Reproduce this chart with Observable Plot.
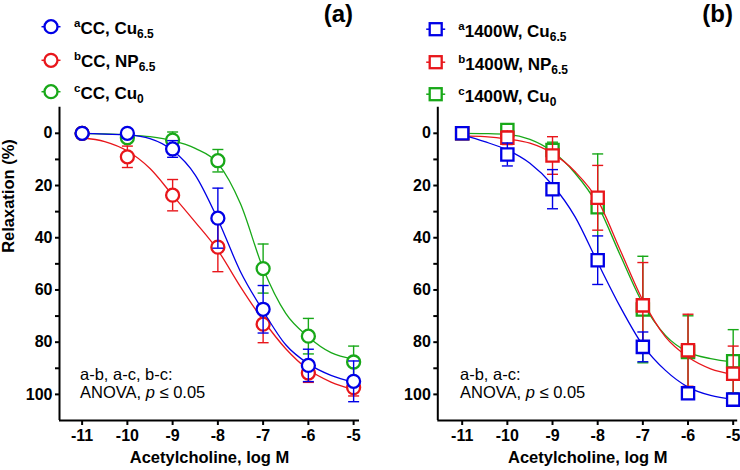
<!DOCTYPE html>
<html><head><meta charset="utf-8">
<script src="https://cdn.jsdelivr.net/npm/d3@7"></script>
<script src="https://cdn.jsdelivr.net/npm/@observablehq/plot@0.6"></script>
<style>
body{margin:0;background:#fff;}
#wrap{position:relative;width:740px;height:470px;overflow:hidden;background:#fff;font-family:"Liberation Sans",Arial,sans-serif;}
#wrap svg{position:absolute;top:0;overflow:visible;}
</style></head><body><div id="wrap"></div>
<script>
// ---- shared axis values ----
const doses = [-11, -10, -9, -8, -7, -6, -5];
const xTickLabels = ["-11", "-10", "-9", "-8", "-7", "-6", "-5"];
const yTicks = [0, 20, 40, 60, 80, 100];
const yMinorTicks = [10, 30, 50, 70, 90];
const yDomain = [-10, 110];
const xDomainA = [-11.5, -4.87];
const xDomainB = [-11.54, -4.9];
const curveDoses = [-11, -10.5, -10, -9.5, -9, -8.5, -8, -7.5, -7, -6.5, -6, -5.5, -5];
const xTitle = "Acetylcholine, log M";
const yTitle = "Relaxation (%)";

// ---- panel (a): CC ----
const ccCu65Mean = [0, 0, 6.0, 32.5, 67.4, 88.9, 95.0];
const ccCu65Sem  = [0, 0, 3.2, 11.5, 9.1, 6.2, 7.8];
const ccCu65Fit  = [0, 0.3, 0.6, 2.0, 6.5, 16, 33, 53, 68, 81, 88.3, 92.7, 95.3];

const ccNP65Mean = [0, 9.0, 23.7, 43.6, 73.1, 91.8, 97.4];
const ccNP65Sem  = [0, 4.1, 6.0, 9.4, 7.1, 3.6, 3.2];
const ccNP65Fit  = [1.7, 3.2, 6.8, 13.5, 23.7, 34, 44.8, 58.8, 71.6, 82.5, 90.5, 95.3, 98.2];

const ccCu0Mean = [0, 1.7, 2.6, 10.5, 51.8, 77.7, 87.6];
const ccCu0Sem  = [0, 1.5, 3.1, 4.3, 9.4, 6.8, 6.1];
const ccCu0Fit  = [0, 0.2, 0.6, 1.3, 2.8, 5.8, 11.5, 27, 51.8, 69, 78, 84, 86.5];

// ---- panel (b): 1400W ----
const wCu65Mean = [0, 8.1, 21.4, 48.6, 81.8, 99.6, 102.0];
const wCu65Sem  = [0, 4.4, 7.5, 9.3, 5.7, 1.5, 1.2];
const wCu65Fit  = [0.6, 3.2, 6.4, 11.5, 19.8, 32, 49.5, 66.5, 81.2, 90.8, 97.2, 100.4, 101.9];

const wNP65Mean = [0, 1.7, 8.5, 24.7, 65.9, 83.1, 92.1];
const wNP65Sem  = [0, 2.6, 7.2, 12.4, 16.4, 13.8, 10.6];
const wNP65Fit  = [1.0, 1.3, 2.2, 3.8, 7.7, 14.7, 25.6, 44.8, 64, 78, 85.7, 90.2, 92.3];

const wCu0Mean = [0, -1.3, 6.4, 28.3, 67.5, 83.8, 87.3];
const wCu0Sem  = [0, 1.5, 3.0, 20.4, 20.4, 13.9, 12.1];
const wCu0Fit  = [0, 0.1, 0.4, 2.3, 7.0, 15.3, 27.5, 46.7, 65.2, 77.4, 83.8, 86.3, 87.6];

const blue = "#0000e6", red = "#e8161b", green = "#18a818";

const legendA = [
  {sup: "a", main: "CC, Cu", sub: "6.5", color: blue},
  {sup: "b", main: "CC, NP", sub: "6.5", color: red},
  {sup: "c", main: "CC, Cu", sub: "0", color: green}
];
const legendB = [
  {sup: "a", main: "1400W, Cu", sub: "6.5", color: blue},
  {sup: "b", main: "1400W, NP", sub: "6.5", color: red},
  {sup: "c", main: "1400W, Cu", sub: "0", color: green}
];
const statsA = "a-b, a-c, b-c:";
const statsB = "a-b, a-c:";

// draw order: c, b, a  (a on top)
const seriesA = [
  {mean: ccCu0Mean, sem: ccCu0Sem, fit: ccCu0Fit, color: green},
  {mean: ccNP65Mean, sem: ccNP65Sem, fit: ccNP65Fit, color: red},
  {mean: ccCu65Mean, sem: ccCu65Sem, fit: ccCu65Fit, color: blue}
];
const seriesB = [
  {mean: wCu0Mean, sem: wCu0Sem, fit: wCu0Fit, color: green},
  {mean: wNP65Mean, sem: wNP65Sem, fit: wNP65Fit, color: red},
  {mean: wCu65Mean, sem: wCu65Sem, fit: wCu65Fit, color: blue}
];

const capSymbol = {draw(ctx) { ctx.moveTo(-5.5, 0); ctx.lineTo(5.5, 0); }};

function seriesMarks(series, symbol, r) {
  const marks = [];
  for (const s of series) {
    const pts = doses.map((d, i) => ({x: d, y: s.mean[i], e: s.sem[i]}));
    const fit = curveDoses.map((d, i) => ({x: d, y: s.fit[i]}));
    const eb = pts.filter(p => p.e > 0);
    marks.push(Plot.line(fit, {x: "x", y: "y", stroke: s.color, strokeWidth: 1.3, curve: "monotone-x"}));
    marks.push(Plot.ruleX(eb, {x: "x", y1: p => p.y - p.e, y2: p => p.y + p.e, stroke: s.color, strokeWidth: 1.4}));
    marks.push(Plot.dot(eb, {x: "x", y: p => p.y - p.e, symbol: capSymbol, stroke: s.color, strokeWidth: 1.4}));
    marks.push(Plot.dot(eb, {x: "x", y: p => p.y + p.e, symbol: capSymbol, stroke: s.color, strokeWidth: 1.4}));
    marks.push(Plot.dot(pts, {x: "x", y: "y", symbol, r, stroke: s.color, fill: "white", strokeWidth: 2.3}));
  }
  return marks;
}

function panel({series, symbol, r, xDomain, width, marginLeft, marginRight, yTitleOn}) {
  return Plot.plot({
    width, height: 470,
    marginLeft, marginRight, marginTop: 106.7, marginBottom: 50,
    style: {fontFamily: '"Liberation Sans", Arial, sans-serif', fontWeight: "bold", color: "black", background: "transparent", overflow: "visible"},
    x: {domain: xDomain},
    y: {domain: yDomain, reverse: true},
    marks: [
      ...seriesMarks(series, symbol, r),
      Plot.axisY({ticks: yMinorTicks, tickSize: 4, strokeWidth: 2, tickFormat: () => "", label: null}),
      Plot.axisY({ticks: yTicks, tickSize: 4, tickPadding: 3, strokeWidth: 2, fontSize: 16, label: null}),
      Plot.axisX({ticks: doses, tickSize: 5, tickPadding: 4, strokeWidth: 2, fontSize: 16, label: null,
                  tickFormat: (d) => xTickLabels[doses.indexOf(d)]}),
      Plot.ruleX([xDomain[0]], {stroke: "black", strokeWidth: 2}),
      Plot.ruleY([yDomain[1]], {stroke: "black", strokeWidth: 2}),
      Plot.text([xTitle], {text: d => d, frameAnchor: "bottom", dy: 42, fontSize: 16.5}),
      ...(yTitleOn ? [Plot.text([yTitle], {text: d => d, frameAnchor: "left", rotate: -90, dx: -51, dy: -11, fontSize: 16.5})] : [])
    ]
  });
}

const wrap = document.getElementById("wrap");
const svgA = panel({series: seriesA, symbol: "circle", r: 6.5, xDomain: xDomainA, width: 370, marginLeft: 59, marginRight: 11, yTitleOn: true});
svgA.style.left = "0px";
wrap.appendChild(svgA);
const svgB = panel({series: seriesB, symbol: "square", r: 6.9, xDomain: xDomainB, width: 360, marginLeft: 57.3, marginRight: 2.8, yTitleOn: false});
svgB.style.left = "380px";
wrap.appendChild(svgB);

// ---- overlay: legends, panel letters, statistics note ----
const ov = d3.create("svg").attr("width", 740).attr("height", 470).style("left", "0px")
  .attr("font-family", '"Liberation Sans", Arial, sans-serif');

function legend(items, cx, centers, textX, baseOff, shape) {
  items.forEach((it, i) => {
    const cy = centers[i];
    ov.append("line").attr("x1", cx - 9.5).attr("x2", cx + 9.5).attr("y1", cy).attr("y2", cy)
      .attr("stroke", it.color).attr("stroke-width", 1.5);
    if (shape === "circle") {
      ov.append("circle").attr("cx", cx).attr("cy", cy).attr("r", 6.5)
        .attr("fill", "white").attr("stroke", it.color).attr("stroke-width", 2.3);
    } else {
      ov.append("rect").attr("x", cx - 6).attr("y", cy - 6).attr("width", 12).attr("height", 12)
        .attr("fill", "white").attr("stroke", it.color).attr("stroke-width", 2.3);
    }
    const t = ov.append("text").attr("x", textX).attr("y", cy + baseOff)
      .attr("font-size", 17).attr("font-weight", "bold").attr("fill", "black");
    t.append("tspan").attr("font-size", 11.5).attr("dy", -7).text(it.sup);
    t.append("tspan").attr("dy", 7).text(it.main);
    t.append("tspan").attr("font-size", 12).attr("dy", 4).text(it.sub);
  });
}
legend(legendA, 51, [26.7, 60.3, 91.7], 74, 6.8, "circle");
legend(legendB, 435.7, [29.2, 62.2, 94.2], 458.3, 7.5, "square");

ov.append("text").attr("x", 353).attr("y", 22).attr("text-anchor", "end")
  .attr("font-size", 24).attr("font-weight", "bold").text("(a)");
ov.append("text").attr("x", 733).attr("y", 22).attr("text-anchor", "end")
  .attr("font-size", 24).attr("font-weight", "bold").text("(b)");

function stats(x, line1) {
  ov.append("text").attr("x", x).attr("y", 380).attr("font-size", 16.5).text(line1);
  const t = ov.append("text").attr("x", x).attr("y", 397.7).attr("font-size", 16.5);
  t.append("tspan").text("ANOVA, ");
  t.append("tspan").attr("font-style", "italic").text("p");
  t.append("tspan").text(" \u2264 0.05");
}
stats(80, statsA);
stats(460, statsB);

wrap.appendChild(ov.node());
</script>
</body></html>
